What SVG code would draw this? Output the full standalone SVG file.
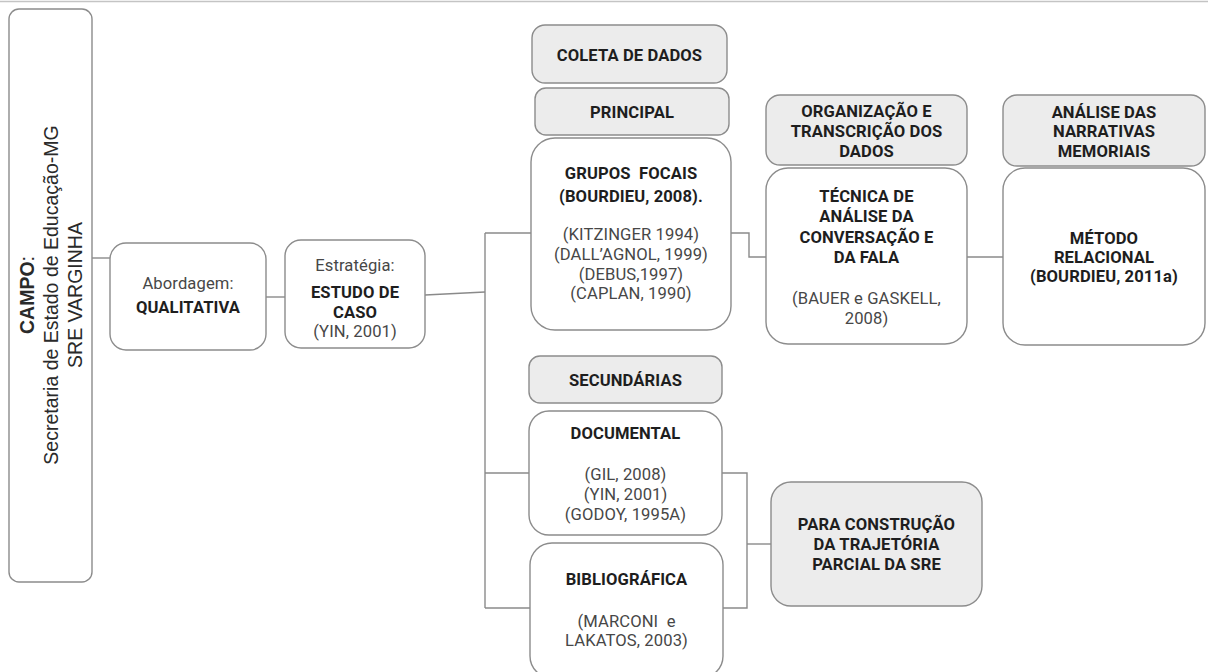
<svg xmlns="http://www.w3.org/2000/svg" width="1208" height="672" viewBox="0 0 1208 672">
  <style>
    .box { fill: #ffffff; stroke: #8c8c8c; stroke-width: 1.4; }
    .hdr { fill: #ececec; stroke: #8c8c8c; stroke-width: 1.4; }
    .wire { fill: none; stroke: #8a8a8a; stroke-width: 1.4; }
    text { font-family: Roboto, "Liberation Sans", Arial, sans-serif; font-size: 16.6px; letter-spacing: 0.1px; text-anchor: middle; }
    .b { font-weight: bold; fill: #1e1e1e; }
    .r { fill: #474747; }
    .campo { font-family: "Liberation Sans", Arial, sans-serif; font-size: 19.5px; letter-spacing: 0; fill: #2a2a2a; }
  </style>

  <!-- top rule -->
  <line x1="0" y1="1.5" x2="1208" y2="1.5" stroke="#c4c4c4" stroke-width="1.5"/>

  <!-- connectors -->
  <g id="connectors">
    <path class="wire" d="M92 258 H110"/>
    <path class="wire" d="M266 297 H285"/>
    <path class="wire" d="M425 295 L485 292"/>
    <path class="wire" d="M485 233 V608"/>
    <path class="wire" d="M485 233 H531"/>
    <path class="wire" d="M485 473 H529"/>
    <path class="wire" d="M485 608 H530"/>
    <path class="wire" d="M731 233 H749 V257 H766"/>
    <path class="wire" d="M967 257 H1003"/>
    <path class="wire" d="M722 473 H747 V608 H723"/>
    <path class="wire" d="M747 544 H771"/>
  </g>

  <!-- field -->
  <g id="campo">
    <rect class="box" x="9" y="9" width="83" height="573" rx="10"/>
    <g transform="translate(50 295) rotate(-90)">
      <text class="campo" x="0" y="-16"><tspan font-weight="bold">CAMPO</tspan>:</text>
      <text class="campo" x="0" y="8">Secretaria de Estado de Educação-MG</text>
      <text class="campo" x="0" y="32">SRE VARGINHA</text>
    </g>
  </g>

  <g id="abordagem">
    <rect class="box" x="110" y="243" width="156" height="107" rx="16"/>
    <text class="r" x="188" y="289">Abordagem:</text>
    <text class="b" x="188" y="313">QUALITATIVA</text>
  </g>

  <g id="estrategia">
    <rect class="box" x="285" y="240" width="140" height="108" rx="16"/>
    <text class="r" x="355" y="271">Estratégia:</text>
    <text class="b" x="355" y="298">ESTUDO DE</text>
    <text class="b" x="355" y="318">CASO</text>
    <text class="r" x="355" y="337">(YIN, 2001)</text>
  </g>

  <g id="coleta">
    <rect class="hdr" x="532" y="25" width="195" height="58" rx="13"/>
    <text class="b" x="629.5" y="60.5">COLETA DE DADOS</text>
  </g>

  <g id="principal">
    <rect class="hdr" x="535" y="88" width="194" height="47" rx="11"/>
    <text class="b" x="632" y="117.5">PRINCIPAL</text>
  </g>

  <g id="grupos-focais">
    <rect class="box" x="531" y="138" width="200" height="192" rx="24"/>
    <text class="b" x="631" y="179">GRUPOS&#160; FOCAIS</text>
    <text class="b" x="631" y="201.5">(BOURDIEU, 2008).</text>
    <text class="r" x="631" y="239.5">(KITZINGER 1994)</text>
    <text class="r" x="631" y="259.5">(DALL’AGNOL, 1999)</text>
    <text class="r" x="631" y="279.5">(DEBUS,1997)</text>
    <text class="r" x="631" y="298.5">(CAPLAN, 1990)</text>
  </g>

  <g id="organizacao">
    <rect class="hdr" x="766" y="95" width="201" height="70" rx="14"/>
    <text class="b" x="866.5" y="117">ORGANIZAÇÃO E</text>
    <text class="b" x="866.5" y="137">TRANSCRIÇÃO DOS</text>
    <text class="b" x="866.5" y="157">DADOS</text>
  </g>

  <g id="tecnica">
    <rect class="box" x="766" y="168" width="201" height="176" rx="22"/>
    <text class="b" x="866.5" y="202">TÉCNICA DE</text>
    <text class="b" x="866.5" y="222">ANÁLISE DA</text>
    <text class="b" x="866.5" y="243">CONVERSAÇÃO E</text>
    <text class="b" x="866.5" y="263">DA FALA</text>
    <text class="r" x="866.5" y="304">(BAUER e GASKELL,</text>
    <text class="r" x="866.5" y="324">2008)</text>
  </g>

  <g id="analise">
    <rect class="hdr" x="1003" y="95" width="202" height="71" rx="14"/>
    <text class="b" x="1104" y="117.5">ANÁLISE DAS</text>
    <text class="b" x="1104" y="137">NARRATIVAS</text>
    <text class="b" x="1104" y="157">MEMORIAIS</text>
  </g>

  <g id="metodo">
    <rect class="box" x="1003" y="168" width="202" height="177" rx="22"/>
    <text class="b" x="1104" y="244">MÉTODO</text>
    <text class="b" x="1104" y="263">RELACIONAL</text>
    <text class="b" x="1104" y="282">(BOURDIEU, 2011a)</text>
  </g>

  <g id="secundarias">
    <rect class="hdr" x="529" y="356" width="193" height="47" rx="11"/>
    <text class="b" x="625.5" y="385.5">SECUNDÁRIAS</text>
  </g>

  <g id="documental">
    <rect class="box" x="529" y="411" width="193" height="124" rx="20"/>
    <text class="b" x="625.5" y="439">DOCUMENTAL</text>
    <text class="r" x="625.5" y="479.5">(GIL, 2008)</text>
    <text class="r" x="625.5" y="499.5">(YIN, 2001)</text>
    <text class="r" x="625.5" y="520">(GODOY, 1995A)</text>
  </g>

  <g id="bibliografica">
    <rect class="box" x="530" y="543" width="193" height="135" rx="22"/>
    <text class="b" x="626.5" y="585">BIBLIOGRÁFICA</text>
    <text class="r" x="626.5" y="626.5">(MARCONI&#160; e</text>
    <text class="r" x="626.5" y="646">LAKATOS, 2003)</text>
  </g>

  <g id="trajetoria">
    <rect class="hdr" x="771" y="482" width="211" height="124" rx="20"/>
    <text class="b" x="876.5" y="530">PARA CONSTRUÇÃO</text>
    <text class="b" x="876.5" y="550">DA TRAJETÓRIA</text>
    <text class="b" x="876.5" y="570">PARCIAL DA SRE</text>
  </g>
</svg>
